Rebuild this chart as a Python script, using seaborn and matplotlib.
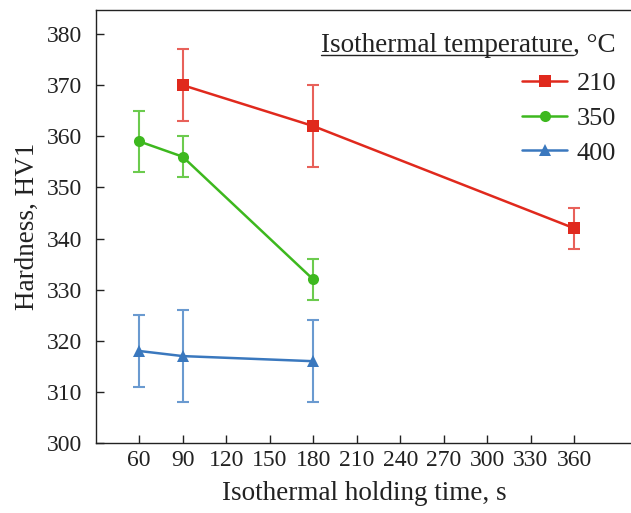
import matplotlib
matplotlib.use("Agg")
import matplotlib.pyplot as plt
from matplotlib.lines import Line2D
import seaborn as sns
import pandas as pd
import numpy as np

# Data
temps = ["210", "350", "400"]
time_210 = [90, 180, 360]
hard_210 = [370, 362, 342]
lo_210 = [363, 354, 338]
hi_210 = [377, 370, 346]

time_350 = [60, 90, 180]
hard_350 = [359, 356, 332]
lo_350 = [353, 352, 328]
hi_350 = [365, 360, 336]

time_400 = [60, 90, 180]
hard_400 = [318, 317, 316]
lo_400 = [311, 308, 308]
hi_400 = [325, 326, 324]

x_ticks = [60, 90, 120, 150, 180, 210, 240, 270, 300, 330, 360]
y_ticks = [300, 310, 320, 330, 340, 350, 360, 370, 380]

colors = {"210": "#E0291D", "350": "#3DB81E", "400": "#3A78BE"}
ecolors = {"210": "#E8615A", "350": "#6CCB4E", "400": "#6A9AD0"}
markers = {"210": "s", "350": "o", "400": "^"}
msizes = {"210": 8.5, "350": 8, "400": 9}

series = {
    "210": (time_210, hard_210, lo_210, hi_210),
    "350": (time_350, hard_350, lo_350, hi_350),
    "400": (time_400, hard_400, lo_400, hi_400),
}

rows = []
for t in temps:
    xs, ys, _, _ = series[t]
    for x, y in zip(xs, ys):
        rows.append({"time": x, "hardness": y, "temp": t})
df = pd.DataFrame(rows)

sns.set_style("ticks")
plt.rcParams["font.family"] = ["Liberation Serif", "DejaVu Serif"]

fig = plt.figure(figsize=(6.31, 5.13), dpi=100)
ax = fig.add_axes([95.7 / 631, 70 / 513, 536.5 / 631, 433 / 513])

# error bars
for t in temps:
    xs, ys, lo, hi = series[t]
    ys = np.array(ys)
    yerr = [ys - np.array(lo), np.array(hi) - ys]
    ax.errorbar(xs, ys, yerr=yerr, fmt="none", ecolor=ecolors[t],
                elinewidth=1.5, capsize=4.5, capthick=1.5, zorder=2)

for t in temps:
    sub = df[df["temp"] == t]
    sns.lineplot(data=sub, x="time", y="hardness", ax=ax, color=colors[t],
                 marker=markers[t], markersize=msizes[t], markeredgewidth=0,
                 linewidth=1.8, label=t, zorder=3, errorbar=None)

ax.set_xlim(30, 400)
ax.set_ylim(300, 384.7)
ax.set_xticks(x_ticks)
ax.set_yticks(y_ticks)
ax.tick_params(direction="in", length=6, width=1, labelsize=17, color="#222222",
               labelcolor="#222222")
ax.tick_params(axis="x", pad=5)
ax.tick_params(axis="y", pad=9.5)
ax.set_xlabel("Isothermal holding time, s", fontsize=19.5, color="#222222", labelpad=7.5)
ax.set_ylabel("Hardness, HV1", fontsize=19.5, color="#222222", labelpad=5)
for s in ax.spines.values():
    s.set_linewidth(1)
    s.set_color("#222222")

handles, labels = ax.get_legend_handles_labels()
leg = ax.legend(handles, labels,
                loc="upper right", bbox_to_anchor=(616 / 631, 441 / 513),
                bbox_transform=fig.transFigure, frameon=False, fontsize=19,
                borderaxespad=0, borderpad=0, handlelength=1.7,
                handletextpad=0.35, labelspacing=0.42)
for txt in leg.get_texts():
    txt.set_color("#222222")

# legend title, with the first part underlined
title_main = "Isothermal temperature"
ttl = fig.text(616 / 631, (513 - 43) / 513, title_main + ", °C", ha="right",
               va="center_baseline", fontsize=19.5, color="#222222")
fig.canvas.draw()
renderer = fig.canvas.get_renderer()
bb = ttl.get_window_extent(renderer)
w_main, _, _ = renderer.get_text_width_height_descent(title_main, ttl.get_fontproperties(), ismath=False)
_, _, desc = renderer.get_text_width_height_descent(title_main + ", °C", ttl.get_fontproperties(), ismath=False)
yline = bb.y0 + desc - 2.5
fig.add_artist(Line2D([bb.x0, bb.x0 + w_main], [yline, yline], transform=None,
                      color="#222222", linewidth=1.0))

fig.savefig("out.png", dpi=100)
